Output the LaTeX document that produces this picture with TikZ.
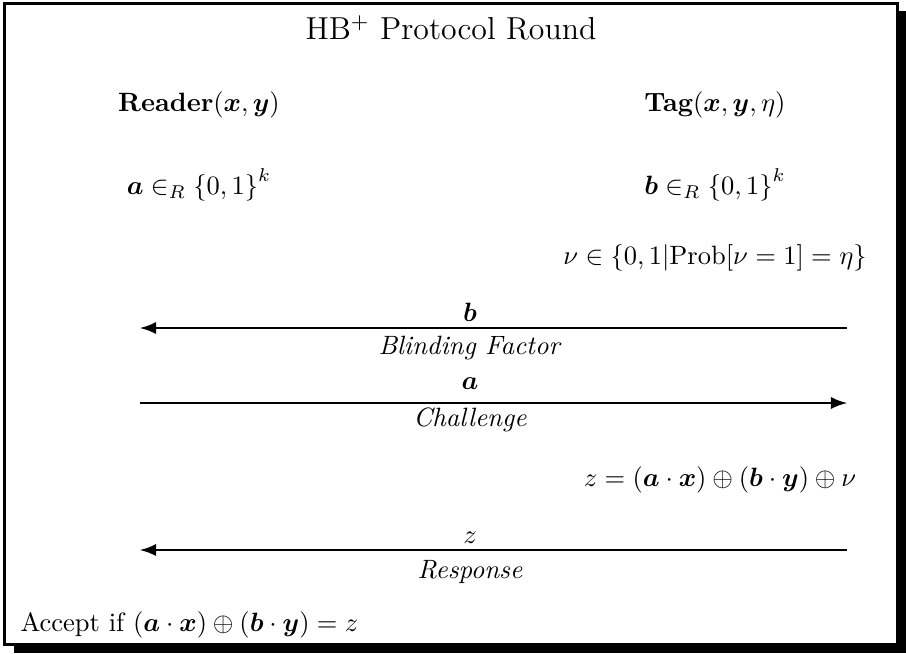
\documentclass[tikz,border=0pt]{standalone}
\usepackage{amsmath,amssymb,bm}
\usetikzlibrary{arrows}
\begin{document}
\begin{tikzpicture}[x=0.3774pt,y=-0.3774pt,
  msg/.style={line width=1.1pt,-latex},
  lbl/.style={inner sep=0pt,anchor=center}]
\useasboundingbox (0,0) rectangle (906,653);
% shadow
\fill[black] (899,11) rectangle (906,653);
\fill[black] (14,646) rectangle (906,653);
% frame
\draw[line width=3pt*0.3774] (4.5,3.5) rectangle (897.5,644.5);
% texts
\node[lbl] (title) at (451,28) {\large HB$^{+}$ Protocol Round};
\node[lbl] (reader) at (199,105) {\textbf{Reader}$(\bm{x},\bm{y})$};
\node[lbl] (tag) at (715,105) {\textbf{Tag}$(\bm{x},\bm{y},\eta)$};
\node[lbl] (ra) at (199,185) {$\bm{a}\in_R\left\{0,1\right\}^k$};
\node[lbl] (tb) at (715,185) {$\bm{b}\in_R\left\{0,1\right\}^k$};
\node[lbl] (nu) at (715,258) {$\nu\in\{0,1|\mathrm{Prob}[\nu=1]=\eta\}$};
\node[lbl] (z) at (720,480) {$z=(\bm{a}\cdot\bm{x})\oplus(\bm{b}\cdot\bm{y})\oplus\nu$};
\node[lbl,anchor=west] (acc) at (20,625) {Accept if $(\bm{a}\cdot\bm{x})\oplus(\bm{b}\cdot\bm{y})=z$};
% message coordinates
\coordinate (r1) at (140,328); \coordinate (t1) at (847,328);
\coordinate (r2) at (140,403); \coordinate (t2) at (847,403);
\coordinate (r3) at (140,550); \coordinate (t3) at (847,550);
\draw[msg] (t1) -- (r1);
\draw[msg] (r2) -- (t2);
\draw[msg] (t3) -- (r3);
\node[lbl] (m1) at (470,312) {$\bm{b}$};
\node[lbl] (d1) at (470,348) {\textit{Blinding Factor}};
\node[lbl] (m2) at (470,384) {$\bm{a}$};
\node[lbl] (d2) at (470,420) {\textit{Challenge}};
\node[lbl] (m3) at (470,538) {$z$};
\node[lbl] (d3) at (470,572) {\textit{Response}};
\end{tikzpicture}
\end{document}
